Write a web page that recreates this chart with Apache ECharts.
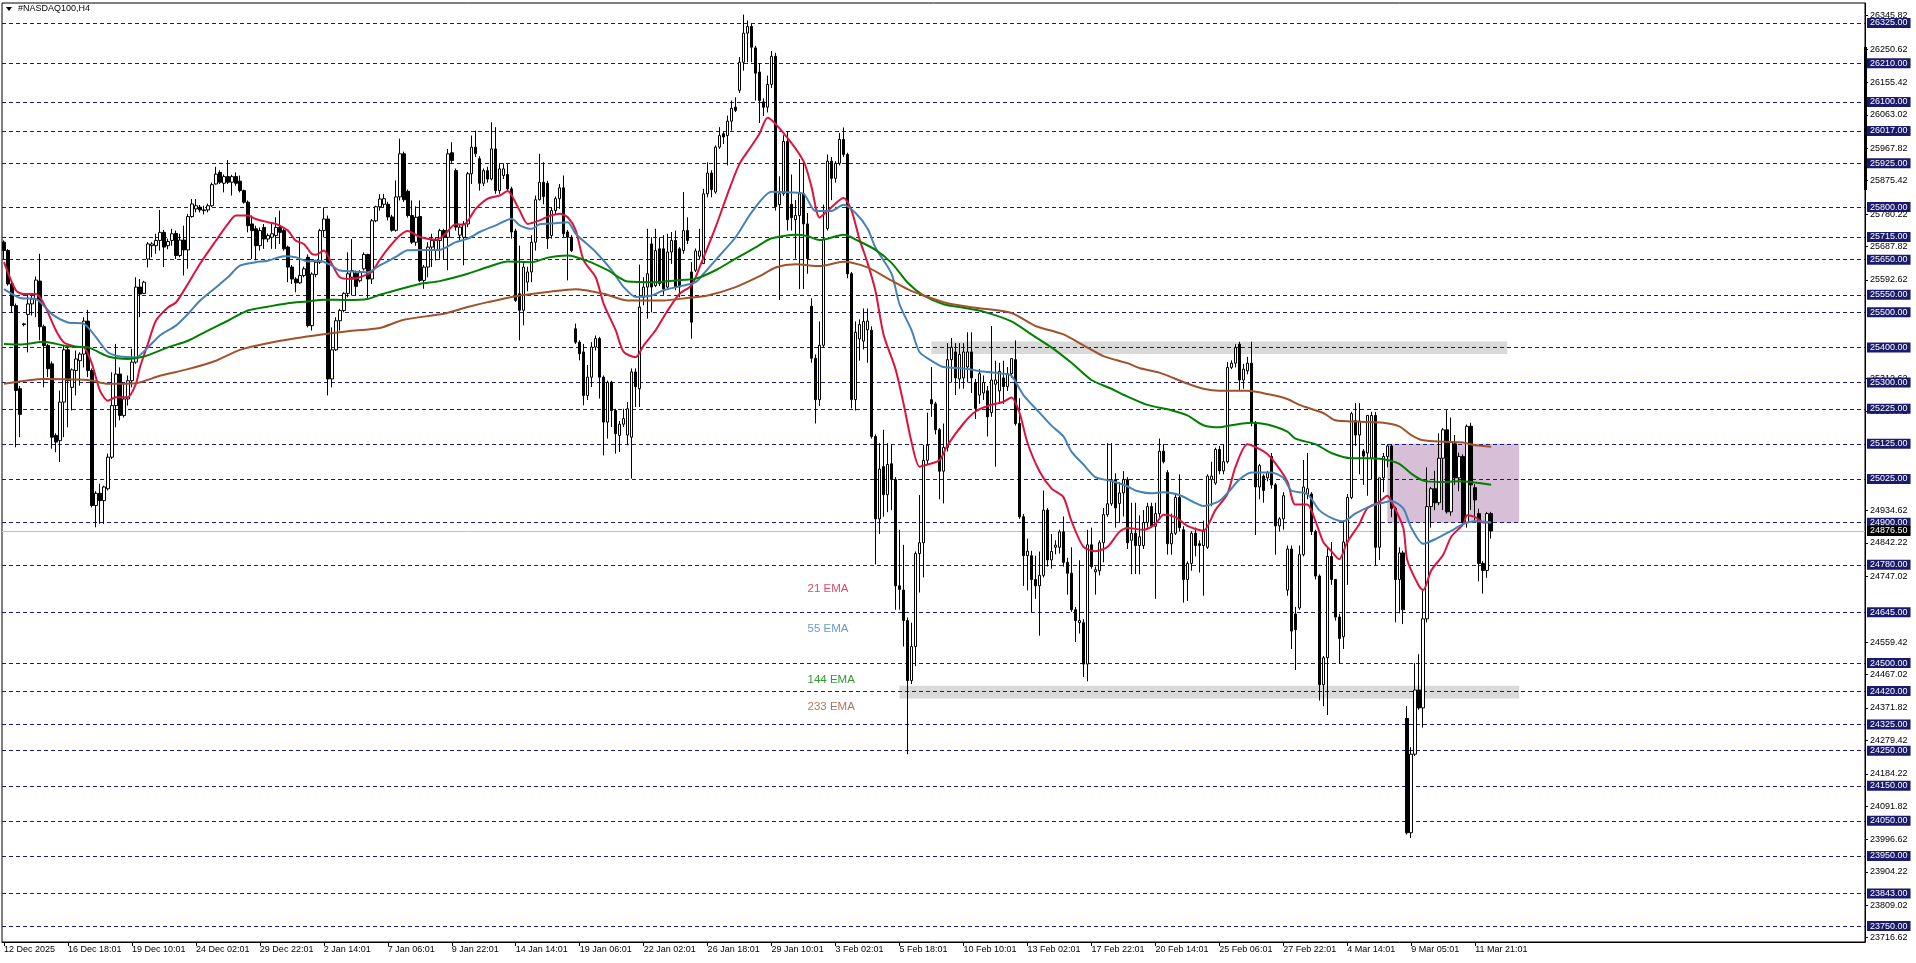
<!DOCTYPE html>
<html><head><meta charset="utf-8">
<script src="https://cdn.jsdelivr.net/npm/echarts@6/dist/echarts.min.js"></script>
<style>html,body{margin:0;padding:0;background:#fff;overflow:hidden}#c{width:1916px;height:963px}</style>
</head><body><div id="c"></div>
<script>
const chartTitle = '#NASDAQ100,H4';
const xTickLabels = ['12 Dec 2025','16 Dec 18:01','19 Dec 10:01','24 Dec 02:01','29 Dec 22:01','2 Jan 14:01','7 Jan 06:01','9 Jan 22:01','14 Jan 14:01','19 Jan 06:01','22 Jan 02:01','26 Jan 18:01','29 Jan 10:01','3 Feb 02:01','5 Feb 18:01','10 Feb 10:01','13 Feb 02:01','17 Feb 22:01','20 Feb 14:01','25 Feb 06:01','27 Feb 22:01','4 Mar 14:01','9 Mar 05:01','11 Mar 21:01'];
const barsPerLabel = 16;
const totalSlots = 466;

const opens = [25700,25676,25581,25519,25282,25467,25494,25524,25538,25589,
25459,25405,25353,25149,25134,25244,25393,25286,25334,25362,
25381,25475,25334,24949,24984,24963,24997,25087,25234,25324,
25206,25253,25305,25358,25572,25554,25652,25690,25690,25705,
25728,25690,25705,25725,25662,25706,25678,25773,25795,25800,
25790,25792,25804,25866,25899,25868,25887,25871,25887,25874,
25847,25814,25752,25738,25690,25742,25709,25714,25719,25742,
25733,25686,25629,25595,25584,25605,25657,25462,25608,25643,
25733,25766,25310,25393,25476,25505,25554,25600,25611,25590,
25624,25665,25595,25761,25801,25808,25808,25772,25734,25829,
25952,25845,25776,25700,25773,25591,25629,25686,25676,25705,
25733,25714,25955,25904,25720,25714,25752,25895,25971,25938,
25868,25904,25880,25966,25847,25890,25893,25852,25732,25553,
25506,25586,25615,25700,25821,25871,25868,25719,25790,25824,
25855,25729,25714,25453,25415,25387,25263,25315,25401,25425,
25315,25187,25301,25220,25149,25181,25150,25144,25330,25282,
25543,25572,25695,25576,25681,25681,25572,25672,25705,25681,
25676,25733,25615,25620,25660,25639,25838,25897,25843,25971,
26009,26004,26045,26085,26133,26213,26296,26315,26254,26185,
26100,26085,26150,26230,25807,25838,25987,25808,25764,25776,
25838,25752,25517,25369,25251,25406,25739,25931,25882,25925,
25993,25950,25610,25251,25424,25418,25450,25449,25146,24911,
25060,24980,25068,25023,24720,24708,24621,24450,24547,24812,
24843,25078,25251,25239,25165,25047,25115,25365,25387,25310,
25313,25344,25387,25300,25264,25270,25276,25214,25295,25276,
25313,25288,25325,25365,25183,24917,24806,24806,24738,24720,
24750,24936,24794,24830,24830,24874,24787,24756,24652,24615,
24615,24497,24837,24760,24763,24843,24923,24954,25023,24955,
24985,25023,24850,24870,24835,24835,24901,24946,24890,24926,
25104,25043,24840,24870,24972,24880,24738,24784,24870,24840,
24835,24830,25023,25013,25109,25048,25074,25343,25355,25409,
25307,25333,25355,25185,25002,25033,25028,25089,25008,24891,
24911,24708,24825,24640,24657,24809,24982,24982,24875,24748,
24438,24515,24804,24738,24631,24575,24845,24972,25191,25150,
25104,25099,25084,25206,24830,25028,25089,25119,24941,24738,
24814,24342,24016,24240,24423,24372,24626,24946,24997,24957,
25084,25165,24931,25125,25028,25089,24901,25175,25000,24926,
24784,24764,24926];

const highs = [25705,25680,25585,25525,25290,25470,25553,25548,25602,25667,
25465,25410,25360,25155,25277,25405,25400,25340,25391,25386,
25486,25507,25340,24990,25011,25006,25097,25329,25410,25343,
25296,25320,25396,25600,25595,25590,25700,25700,25724,25792,
25735,25710,25738,25733,25724,25747,25780,25823,25823,25806,
25804,25810,25870,25915,25905,25893,25934,25892,25899,25890,
25850,25819,25776,25747,25742,25752,25725,25752,25771,25790,
25740,25690,25635,25600,25714,25630,25665,25614,25650,25738,
25799,25776,25457,25486,25510,25557,25671,25709,25619,25620,
25671,25667,25766,25804,25837,25838,25815,25778,25876,25995,
25958,25850,25819,25802,25819,25635,25700,25724,25714,25738,
25738,25966,25985,25910,25752,25760,25900,26004,26018,25945,
25910,25915,26042,26028,25923,25925,25923,25858,25738,25690,
25640,25630,25720,25833,25952,25928,25875,25800,25830,25866,
25890,25735,25720,25468,25420,25410,25350,25415,25434,25430,
25320,25305,25305,25225,25190,25225,25244,25340,25340,25636,
25600,25738,25714,25738,25714,25720,25724,25729,25733,25686,
25843,25771,25643,25682,25738,25852,25928,25905,25976,26028,
26014,26061,26104,26113,26228,26349,26332,26324,26260,26210,
26110,26175,26245,26240,25888,26005,26017,25893,25820,25937,
25930,25783,25540,25380,25474,25807,25950,25943,25931,26011,
26027,25955,25615,25474,25480,25511,25511,25460,25152,25127,
25165,25127,25122,25030,24880,24837,24630,24615,24818,24979,
25122,25214,25344,25245,25170,25183,25412,25427,25412,25412,
25412,25443,25443,25310,25338,25320,25290,25461,25362,25356,
25362,25344,25370,25420,25255,24925,24855,24820,24806,24818,
24992,24942,24868,24850,24880,24918,24800,24830,24660,24793,
24625,24880,24886,24775,24850,24942,25127,25127,25041,25016,
25047,25030,24957,24957,24921,24936,24957,24957,24957,25140,
25124,25050,24926,24982,25038,24890,24790,24876,24886,24850,
24906,25038,25074,25114,25119,25124,25358,25363,25409,25416,
25353,25373,25416,25190,25068,25038,25048,25099,25013,24916,
24987,24835,24835,24660,24835,25079,25099,24987,24880,24753,
24520,24830,24845,24740,24640,24906,24982,25216,25241,25241,
25110,25206,25216,25216,25028,25099,25124,25124,24946,24830,
24820,24377,24260,24500,24525,24708,25058,25002,25048,25155,
25170,25221,25200,25150,25100,25095,25180,25185,25010,24940,
24790,24931,24931];

const lows = [25652,25576,25500,25115,25144,25460,25386,25491,25486,25420,
25286,25315,25111,25101,25073,25144,25172,25220,25263,25291,
25343,25315,24944,24887,24897,24897,24992,25082,25172,25192,
25200,25234,25286,25353,25486,25552,25628,25657,25667,25676,
25629,25680,25690,25652,25657,25605,25624,25770,25785,25785,
25779,25785,25800,25864,25866,25842,25866,25833,25861,25842,
25810,25728,25652,25648,25676,25681,25700,25681,25681,25695,
25676,25586,25581,25557,25581,25600,25457,25448,25600,25638,
25714,25263,25286,25390,25448,25500,25543,25548,25548,25585,
25619,25538,25581,25757,25790,25800,25762,25730,25730,25819,
25815,25770,25695,25690,25586,25567,25600,25629,25648,25653,
25650,25620,25924,25733,25705,25634,25743,25866,25943,25847,
25860,25870,25876,25838,25838,25880,25847,25710,25530,25420,
25463,25560,25586,25676,25819,25808,25681,25710,25780,25795,
25714,25591,25672,25410,25363,25235,25250,25287,25391,25254,
25092,25140,25173,25097,25102,25173,25121,25026,25230,25230,
25520,25482,25500,25572,25575,25550,25567,25638,25563,25543,
25667,25695,25425,25615,25650,25639,25828,25828,25838,25966,
25980,25919,26018,26071,26125,26189,26213,26213,26104,26040,
26060,26070,26140,25790,25535,25832,25733,25733,25653,25566,
25566,25610,25356,25183,25233,25400,25733,25820,25870,25919,
25943,25597,25226,25220,25362,25394,25356,25140,24781,24868,
24917,24930,24936,24652,24652,24547,24240,24440,24491,24701,
24744,25066,25202,25152,24967,24955,25103,25300,25264,25282,
25282,25300,25270,25196,25239,25250,25146,25202,25060,25239,
25239,25276,25313,25177,24911,24720,24707,24645,24683,24578,
24744,24775,24769,24810,24812,24775,24695,24646,24560,24584,
24460,24448,24769,24695,24750,24787,24917,24948,24886,24900,
24918,24825,24753,24754,24753,24825,24886,24886,24683,24916,
25069,24809,24809,24865,24875,24672,24677,24763,24804,24758,
24692,24825,24947,25008,25038,25038,25069,25338,25343,25277,
25282,25323,25175,24865,24967,24957,25018,24997,24809,24875,
24880,24692,24540,24480,24652,24804,24967,24865,24738,24393,
24377,24352,24723,24621,24499,24540,24723,24967,25119,25038,
25008,24977,25023,24779,24794,24987,25058,24916,24616,24642,
24611,24011,24001,24235,24367,24316,24616,24886,24936,24950,
24936,24926,24920,25008,24990,24890,24886,24936,24906,24733,
24698,24743,24855];

const closes = [25676,25581,25519,25277,25209,25465,25524,25538,25592,25459,
25405,25339,25144,25130,25244,25393,25305,25336,25367,25381,
25475,25334,24949,24984,24963,25002,25087,25234,25324,25206,
25253,25305,25358,25572,25552,25586,25695,25695,25705,25728,
25686,25702,25724,25662,25706,25678,25773,25809,25804,25792,
25792,25804,25864,25894,25871,25887,25871,25887,25868,25847,
25814,25747,25733,25690,25733,25709,25719,25724,25742,25728,
25681,25629,25595,25584,25605,25624,25462,25609,25643,25733,
25766,25310,25393,25476,25505,25554,25610,25619,25574,25614,
25665,25595,25761,25801,25823,25824,25772,25734,25829,25952,
25821,25776,25700,25771,25591,25629,25686,25705,25705,25733,
25714,25952,25933,25743,25743,25752,25895,25971,25952,25868,
25904,25880,25966,25847,25909,25909,25852,25729,25534,25506,
25629,25615,25700,25821,25871,25830,25710,25790,25824,25855,
25724,25714,25676,25415,25382,25263,25315,25401,25425,25315,
25187,25300,25220,25154,25181,25197,25225,25330,25288,25515,
25572,25610,25572,25676,25582,25567,25672,25705,25572,25572,
25733,25705,25472,25675,25675,25838,25897,25850,25971,26004,
26000,26045,26082,26076,26213,26296,26315,26256,26182,26104,
26085,26150,26230,25801,25838,25987,25764,25770,25776,25838,
25752,25653,25369,25251,25406,25708,25931,25882,25925,25993,
25950,25610,25251,25443,25465,25474,25475,25146,24911,25053,
24980,25066,25023,24720,24710,24621,24450,24547,24812,24843,
25078,25121,25239,25165,25047,25115,25365,25400,25313,25380,
25387,25387,25313,25226,25325,25300,25202,25307,25307,25332,
25288,25325,25368,25183,24917,24806,24819,24738,24720,24750,
24936,24794,24818,24836,24874,24787,24756,24652,24621,24621,
24497,24837,24775,24766,24843,24923,24954,25023,24942,24985,
25023,24843,24870,24835,24860,24901,24946,24890,24926,25104,
25074,24840,24870,24972,24886,24738,24784,24870,24835,24835,
24876,25033,25033,25109,25048,25074,25343,25355,25399,25307,
25338,25355,25185,25002,25063,24992,25043,25008,24891,24911,
24977,24825,24591,24595,24809,25002,24997,24875,24748,24438,
24515,24804,24738,24631,24570,24845,24972,25211,25150,25190,
25090,25206,25206,24830,25028,25089,25119,24941,24738,24814,
24652,24016,24240,24423,24372,24626,24946,24997,24957,25084,
25165,24931,25130,25028,25089,24901,25175,25008,24965,24784,
24764,24926,24876.5];

// EMA readings: [bar index, value]
const ema21 = [[0,25643],[3,25562],[5,25552],[8,25552],[10,25524],[13,25448],[15,25414],[18,25402],[20,25400],[22,25353],[24,25277],[26,25248],[28,25258],[31,25258],[33,25296],[34,25343],[36,25410],[38,25476],[41,25514],[43,25528],[46,25581],[49,25638],[53,25704],[56,25752],[58,25776],[61,25776],[63,25766],[66,25757],[68,25752],[71,25733],[73,25704],[75,25695],[77,25666],[78,25664],[80,25676],[82,25638],[84,25600],[87,25595],[89,25600],[92,25615],[94,25650],[96,25681],[99,25719],[101,25732],[104,25715],[108,25707],[110,25719],[113,25751],[115,25750],[118,25795],[121,25824],[124,25833],[126,25846],[127,25833],[129,25790],[131,25752],[134,25762],[136,25773],[139,25781],[141,25771],[143,25734],[145,25648],[148,25600],[150,25524],[153,25449],[155,25387],[158,25372],[160,25406],[163,25449],[166,25505],[169,25553],[172,25577],[174,25629],[178,25743],[181,25838],[184,25924],[187,25975],[189,26010],[191,26055],[195,26011],[200,25931],[202,25857],[204,25770],[206,25789],[210,25826],[212,25790],[214,25708],[216,25641],[218,25560],[220,25437],[223,25338],[225,25240],[227,25130],[229,25060],[231,25066],[234,25078],[236,25121],[240,25183],[243,25217],[246,25233],[250,25245],[252,25257],[254,25214],[256,25128],[259,25047],[262,24998],[265,24973],[267,24905],[270,24831],[273,24819],[276,24831],[279,24874],[281,24885],[285,24880],[288,24896],[290,24923],[293,24916],[296,24891],[300,24877],[303,24936],[306,24982],[308,25058],[311,25124],[315,25104],[317,25084],[321,25018],[323,24952],[326,24952],[328,24906],[330,24845],[332,24819],[334,24796],[336,24845],[339,24896],[341,24941],[344,24959],[346,24977],[347,24962],[350,24886],[351,24794],[354,24718],[355,24708],[357,24764],[360,24809],[362,24860],[365,24896],[366,24921],[368,24916],[370,24901],[372,24901]];
const ema55 = [[0,25566],[4,25541],[8,25538],[12,25495],[16,25471],[20,25467],[23,25429],[26,25386],[29,25374],[33,25372],[36,25400],[39,25434],[43,25462],[46,25495],[49,25533],[53,25571],[56,25600],[59,25633],[63,25643],[66,25647],[70,25660],[73,25657],[76,25645],[79,25647],[82,25633],[84,25619],[88,25616],[91,25614],[94,25634],[98,25658],[101,25677],[109,25678],[113,25700],[116,25710],[119,25729],[123,25748],[127,25767],[129,25748],[132,25738],[134,25751],[138,25754],[141,25757],[143,25724],[148,25672],[152,25620],[155,25572],[158,25544],[162,25548],[165,25563],[169,25574],[173,25586],[175,25610],[179,25662],[183,25714],[187,25785],[192,25844],[197,25842],[200,25838],[203,25789],[207,25789],[210,25807],[213,25783],[216,25739],[218,25684],[222,25610],[224,25523],[227,25449],[229,25387],[232,25362],[235,25344],[240,25340],[245,25331],[250,25325],[252,25319],[255,25264],[259,25214],[262,25177],[265,25146],[267,25103],[270,25066],[273,25030],[277,25019],[281,25004],[283,24992],[287,24984],[290,24987],[294,24979],[297,24962],[300,24948],[304,24962],[307,24997],[309,25023],[312,25043],[317,25043],[320,25028],[322,24992],[326,24982],[329,24936],[332,24914],[335,24904],[338,24926],[342,24948],[345,24957],[347,24962],[350,24941],[352,24886],[355,24840],[358,24853],[362,24877],[365,24896],[368,24904],[372,24901]];
const ema144 = [[0,25410],[4,25408],[10,25416],[16,25403],[21,25400],[26,25374],[31,25367],[35,25374],[41,25400],[46,25419],[51,25448],[56,25476],[61,25505],[66,25516],[71,25526],[76,25531],[80,25536],[86,25535],[91,25538],[94,25550],[98,25563],[104,25581],[109,25589],[116,25610],[121,25629],[126,25645],[132,25643],[136,25656],[141,25662],[146,25646],[151,25620],[156,25588],[163,25586],[168,25591],[173,25596],[178,25620],[183,25653],[188,25685],[192,25711],[198,25721],[201,25717],[204,25706],[210,25721],[214,25702],[218,25678],[222,25641],[226,25585],[230,25548],[235,25523],[240,25513],[245,25502],[252,25474],[257,25437],[262,25400],[267,25356],[272,25307],[277,25282],[280,25265],[286,25236],[292,25221],[296,25206],[300,25178],[304,25172],[307,25178],[312,25185],[316,25180],[321,25160],[323,25140],[328,25124],[332,25099],[337,25084],[341,25084],[345,25081],[349,25068],[352,25040],[355,25020],[359,25016],[364,25018],[367,25016],[372,25008]];
const ema233 = [[0,25296],[10,25310],[21,25307],[26,25296],[33,25298],[39,25319],[46,25338],[53,25362],[59,25393],[66,25412],[73,25426],[79,25436],[86,25446],[94,25455],[100,25479],[110,25496],[116,25515],[121,25529],[128,25546],[136,25558],[143,25566],[150,25553],[156,25534],[165,25534],[171,25541],[176,25548],[183,25572],[189,25603],[193,25628],[198,25637],[204,25632],[210,25644],[216,25628],[221,25597],[226,25566],[230,25548],[236,25526],[243,25513],[252,25498],[258,25461],[265,25437],[270,25406],[275,25375],[281,25355],[284,25341],[289,25328],[296,25297],[300,25282],[304,25276],[311,25276],[316,25267],[321,25253],[324,25236],[330,25213],[333,25192],[339,25188],[345,25185],[349,25175],[352,25150],[355,25135],[360,25131],[365,25129],[368,25121],[372,25117]];

const emaNames = ['21 EMA','55 EMA','144 EMA','233 EMA'];
const emaColors = ['#dc143c','#4682b4','#008000','#a0522d'];
const emaLabelBar = 201;
const emaLabelPrices = [24712, 24597, 24452, 24376];

const levelPrices = [26325,26210,26100,26017,25925,25800,25715,25650,25550,25500,25400,25300,25225,25125,25025,24900,24780,24645,24500,24420,24325,24250,24150,24050,23950,23843,23750];
const priceTicks = [26345.82,26250.62,26155.42,26063.02,25967.82,25875.42,25780.22,25687.82,25592.62,25312.62,25217.42,24934.62,24842.22,24747.02,24559.42,24467.02,24371.82,24279.42,24184.22,24091.82,23996.62,23904.22,23809.02,23716.62];
const currentPrice = 24876.5;
const yMin = 23704.5, yMax = 26382;

// zones: [fromBar, toBar, lowPrice, highPrice]
const grayZones = [[232, 376, 25381, 25417], [224, 379, 24399, 24435]];
const pinkZone = [346, 379, 24900, 25125];

const FONT = 'Liberation Sans';
const cats = Array.from({length: totalSlots}, (_, i) => String(i));
const candleData = opens.map((o, i) => [o, closes[i], lows[i], highs[i]]);
const showTick = (i) => i % barsPerLabel === 0 && i / barsPerLabel < xTickLabels.length;

const chart = echarts.init(document.getElementById('c'), null, {renderer: 'canvas'});
const emaSeries = [ema21, ema55, ema144, ema233].map((d, k) => ({
  type: 'line', name: emaNames[k], data: d, showSymbol: false, smooth: 0.25, z: 4,
  lineStyle: {color: emaColors[k], width: 2}, silent: true, animation: false
}));

chart.setOption({
  animation: false,
  backgroundColor: '#fff',
  grid: {left: 2, right: 51, top: 3, bottom: 21, show: true, borderColor: '#000', borderWidth: 1, backgroundColor: '#fff'},
  xAxis: {
    type: 'category', data: cats, boundaryGap: true,
    axisLine: {show: true, lineStyle: {color: '#000', width: 1}},
    axisTick: {show: true, alignWithLabel: true, interval: showTick, length: 4, lineStyle: {color: '#000'}},
    axisLabel: {interval: showTick, formatter: (v, i) => xTickLabels[i / barsPerLabel], align: 'left', color: '#000', fontSize: 9, fontFamily: FONT, margin: 3},
    splitLine: {show: false}
  },
  yAxis: {
    type: 'value', position: 'right', min: yMin, max: yMax,
    axisLine: {show: true, lineStyle: {color: '#000', width: 1}},
    axisTick: {show: true, length: 3, customValues: priceTicks, lineStyle: {color: '#000'}},
    axisLabel: {customValues: priceTicks, formatter: v => v.toFixed(2), color: '#000', fontSize: 9, fontFamily: FONT, margin: 5},
    splitLine: {show: false}
  },
  graphic: [
    {type: 'polygon', shape: {points: [[6, 7], [12, 7], [9, 11]]}, style: {fill: '#000'}, z: 10},
    {type: 'text', left: 18, top: 4, style: {text: chartTitle, fill: '#000', font: '9px "Liberation Sans"'}, z: 10},
    {type: 'rect', shape: {x: 1864, y: 47, width: 3, height: 143}, style: {fill: '#000'}, z: 10}
  ],
  series: [
    {
      type: 'line', data: [], z: 1, silent: true,
      markArea: {
        silent: true, z: 1,
        data: grayZones.map(z => [{xAxis: z[0], yAxis: z[2], itemStyle: {color: '#d9d9d9'}}, {xAxis: z[1], yAxis: z[3]}])
          .concat([[{xAxis: pinkZone[0], yAxis: pinkZone[2], itemStyle: {color: '#d8bfd8'}}, {xAxis: pinkZone[1], yAxis: pinkZone[3]}]])
      }
    },
    {
      type: 'line', data: [], z: 2, silent: true,
      markLine: {
        silent: true, z: 2, symbol: ['none', 'none'], animation: false,
        data: levelPrices.map(v => ({
          yAxis: v,
          lineStyle: {type: [4, 3], color: '#1a1a80', width: 1},
          label: {show: true, position: 'end', distance: 2, formatter: () => v.toFixed(2), backgroundColor: '#1a1a6e', color: '#fff', padding: [1, 3, 0, 3], fontSize: 9, fontFamily: FONT}
        })).concat([{
          yAxis: currentPrice,
          lineStyle: {type: 'solid', color: '#c0c0c0', width: 1},
          label: {show: true, position: 'end', distance: 2, formatter: () => currentPrice.toFixed(2), backgroundColor: '#000', color: '#fff', padding: [1, 3, 0, 3], fontSize: 9, fontFamily: FONT}
        }])
      }
    },
    {
      type: 'candlestick', data: candleData, barWidth: 3, z: 3, silent: true,
      itemStyle: {color: '#fff', color0: '#000', borderColor: '#000', borderColor0: '#000', borderWidth: 1}
    },
    ...emaSeries,
    {
      type: 'scatter', z: 5, silent: true, symbolSize: 0,
      data: emaLabelPrices.map((p, k) => ({
        value: [emaLabelBar, p],
        label: {show: true, position: 'right', distance: 0, formatter: emaNames[k], color: emaColors[k], fontSize: 11.5, fontFamily: FONT}
      }))
    }
  ]
});
</script></body></html>
